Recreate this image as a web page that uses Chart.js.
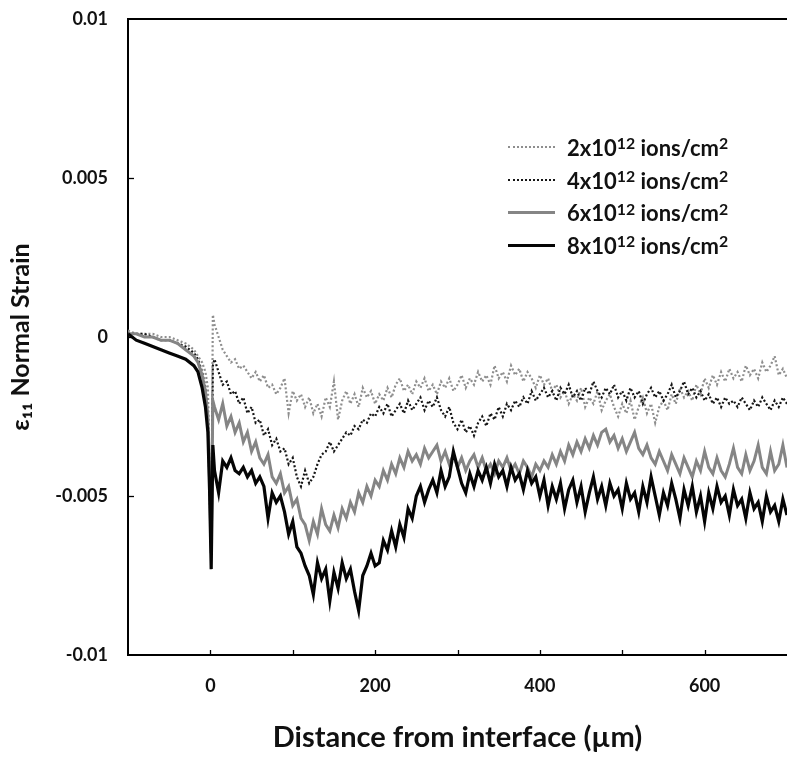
<!DOCTYPE html>
<html>
<head>
<meta charset="utf-8">
<script src="https://cdn.jsdelivr.net/npm/chart.js@4/dist/chart.umd.min.js"></script>
<style>
  html, body { margin: 0; padding: 0; background: #fff; }
  #wrap { position: relative; width: 787px; height: 765px; overflow: hidden; }
  #legend { position: absolute; left: 508px; top: 131px; font-family: Lato, "Open Sans", sans-serif; font-weight: bold; font-size: 22px; color: #111; }
  .row { display: flex; align-items: center; height: 32.7px; white-space: nowrap; }
  .sample { width: 47px; height: 0; margin-right: 12px; }
  sup { font-size: 0.72em; vertical-align: 0; position: relative; top: -0.42em; line-height: 0; }
</style>
</head>
<body>
<div id="wrap">
  <canvas id="c" width="787" height="765"></canvas>
  <div id="legend"></div>
</div>
<script>
// ---- data ----
const xValues = [-100,-90,-80,-70,-60,-50,-40,-30,-20,-15,-10,-6,-3,-1,1,3,
  5,10,15,20,25,30,35,40,45,50,55,60,65,70,75,80,85,90,95,100,
  105,110,115,120,125,130,135,140,145,150,155,160,165,170,175,180,185,190,195,200,
  205,210,215,220,225,230,235,240,245,250,255,260,265,270,275,280,285,290,295,300,
  305,310,315,320,325,330,335,340,345,350,355,360,365,370,375,380,385,390,395,400,
  405,410,415,420,425,430,435,440,445,450,455,460,465,470,475,480,485,490,495,500,
  505,510,515,520,525,530,535,540,545,550,555,560,565,570,575,580,585,590,595,600,
  605,610,615,620,625,630,635,640,645,650,655,660,665,670,675,680,685,690,695,700];

const seriesLabels = ['2x10¹² ions/cm²','4x10¹² ions/cm²','6x10¹² ions/cm²','8x10¹² ions/cm²'];

const strain2 = [0.0002,0.0001,0.0001,0.0001,0.0000,0.0000,-0.0001,-0.0002,-0.0004,-0.0006,-0.0008,-0.0011,-0.0016,-0.0040,-0.0066,0.0007,
  0.0004,0.0000,-0.0004,-0.0006,-0.0008,-0.0007,-0.0010,-0.0009,-0.0011,-0.0013,
  -0.0011,-0.0014,-0.0012,-0.0016,-0.0015,-0.0018,-0.0016,-0.0013,-0.0024,-0.0017,
  -0.0020,-0.0018,-0.0022,-0.0019,-0.0024,-0.0021,-0.0025,-0.0019,-0.0022,-0.0014,
  -0.0026,-0.0020,-0.0017,-0.0021,-0.0018,-0.0022,-0.0016,-0.0019,-0.0017,-0.0021,
  -0.0018,-0.0020,-0.0016,-0.0019,-0.0015,-0.0013,-0.0017,-0.0015,-0.0018,-0.0014,
  -0.0016,-0.0013,-0.0017,-0.0015,-0.0018,-0.0014,-0.0016,-0.0013,-0.0017,-0.0015,
  -0.0012,-0.0016,-0.0013,-0.0015,-0.0011,-0.0014,-0.0012,-0.0015,-0.0009,-0.0013,
  -0.0011,-0.0014,-0.0009,-0.0012,-0.0010,-0.0014,-0.0011,-0.0013,-0.0016,-0.0012,
  -0.0015,-0.0013,-0.0017,-0.0015,-0.0019,-0.0017,-0.0021,-0.0018,-0.0020,-0.0016,
  -0.0022,-0.0019,-0.0021,-0.0017,-0.0023,-0.0020,-0.0018,-0.0022,-0.0025,-0.0021,
  -0.0024,-0.0020,-0.0026,-0.0022,-0.0019,-0.0024,-0.0021,-0.0027,-0.0022,-0.0020,
  -0.0023,-0.0018,-0.0021,-0.0016,-0.0019,-0.0017,-0.0020,-0.0015,-0.0018,-0.0013,
  -0.0016,-0.0012,-0.0015,-0.0011,-0.0014,-0.0010,-0.0013,-0.0011,-0.0014,-0.0009,
  -0.0012,-0.0010,-0.0013,-0.0008,-0.0011,-0.0009,-0.0006,-0.0012,-0.0010,-0.0013];

const strain4 = [0.0001,0.0001,0.0001,0.0000,-0.0001,-0.0001,-0.0002,-0.0003,-0.0005,-0.0007,-0.0011,-0.0016,-0.0026,-0.0048,-0.0067,-0.0009,
  -0.0007,-0.0011,-0.0015,-0.0014,-0.0018,-0.0017,-0.0021,-0.0019,-0.0024,-0.0022,
  -0.0027,-0.0026,-0.0031,-0.0029,-0.0034,-0.0032,-0.0036,-0.0035,-0.0040,-0.0038,
  -0.0044,-0.0047,-0.0042,-0.0046,-0.0044,-0.0040,-0.0037,-0.0036,-0.0033,-0.0036,
  -0.0034,-0.0032,-0.0030,-0.0031,-0.0028,-0.0029,-0.0026,-0.0027,-0.0024,-0.0025,
  -0.0022,-0.0024,-0.0021,-0.0025,-0.0023,-0.0021,-0.0024,-0.0020,-0.0023,-0.0021,
  -0.0019,-0.0023,-0.0020,-0.0022,-0.0019,-0.0023,-0.0025,-0.0022,-0.0027,-0.0029,
  -0.0026,-0.0030,-0.0028,-0.0031,-0.0027,-0.0025,-0.0028,-0.0024,-0.0026,-0.0022,
  -0.0025,-0.0021,-0.0023,-0.0020,-0.0022,-0.0019,-0.0021,-0.0017,-0.0020,-0.0018,
  -0.0016,-0.0019,-0.0017,-0.0020,-0.0016,-0.0018,-0.0015,-0.0019,-0.0017,-0.0020,
  -0.0016,-0.0018,-0.0014,-0.0017,-0.0019,-0.0016,-0.0018,-0.0015,-0.0019,-0.0017,
  -0.0020,-0.0016,-0.0019,-0.0017,-0.0021,-0.0018,-0.0016,-0.0019,-0.0017,-0.0020,
  -0.0018,-0.0015,-0.0019,-0.0017,-0.0014,-0.0018,-0.0016,-0.0019,-0.0017,-0.0020,
  -0.0018,-0.0021,-0.0019,-0.0022,-0.0019,-0.0021,-0.0020,-0.0022,-0.0019,-0.0021,
  -0.0023,-0.0020,-0.0022,-0.0019,-0.0021,-0.0023,-0.0020,-0.0022,-0.0019,-0.0021];

const strain6 = [0.0001,0.0001,0.0000,0.0000,-0.0001,-0.0001,-0.0002,-0.0004,-0.0006,-0.0008,-0.0012,-0.0017,-0.0025,-0.0045,-0.0068,-0.0020,
  -0.0022,-0.0026,-0.0021,-0.0028,-0.0025,-0.0030,-0.0027,-0.0033,-0.0030,-0.0036,
  -0.0033,-0.0038,-0.0040,-0.0037,-0.0044,-0.0046,-0.0043,-0.0049,-0.0047,-0.0053,
  -0.0051,-0.0057,-0.0059,-0.0064,-0.0058,-0.0062,-0.0054,-0.0059,-0.0061,-0.0056,
  -0.0060,-0.0054,-0.0057,-0.0052,-0.0055,-0.0049,-0.0052,-0.0047,-0.0050,-0.0045,
  -0.0047,-0.0042,-0.0045,-0.0040,-0.0043,-0.0038,-0.0041,-0.0036,-0.0039,-0.0037,
  -0.0040,-0.0035,-0.0038,-0.0036,-0.0034,-0.0039,-0.0036,-0.0040,-0.0037,-0.0041,
  -0.0038,-0.0042,-0.0039,-0.0037,-0.0041,-0.0038,-0.0042,-0.0040,-0.0043,-0.0039,
  -0.0041,-0.0038,-0.0042,-0.0040,-0.0043,-0.0039,-0.0041,-0.0044,-0.0040,-0.0042,
  -0.0039,-0.0041,-0.0037,-0.0040,-0.0036,-0.0039,-0.0034,-0.0037,-0.0033,-0.0036,
  -0.0032,-0.0035,-0.0031,-0.0034,-0.0030,-0.0029,-0.0033,-0.0031,-0.0035,-0.0032,
  -0.0036,-0.0033,-0.0030,-0.0035,-0.0037,-0.0034,-0.0038,-0.0040,-0.0036,-0.0039,
  -0.0042,-0.0037,-0.0040,-0.0043,-0.0038,-0.0041,-0.0044,-0.0039,-0.0042,-0.0036,
  -0.0041,-0.0043,-0.0038,-0.0042,-0.0044,-0.0040,-0.0035,-0.0041,-0.0043,-0.0037,
  -0.0042,-0.0039,-0.0034,-0.0041,-0.0043,-0.0036,-0.0042,-0.0040,-0.0034,-0.0041];

const strain8 = [0.0001,-0.0001,-0.0002,-0.0003,-0.0004,-0.0005,-0.0006,-0.0007,-0.0009,-0.0011,-0.0016,-0.0022,-0.0030,-0.0048,-0.0073,-0.0034,
  -0.0042,-0.0049,-0.0039,-0.0041,-0.0038,-0.0042,-0.0043,-0.0041,-0.0044,-0.0042,
  -0.0046,-0.0044,-0.0047,-0.0057,-0.0049,-0.0052,-0.0050,-0.0055,-0.0062,-0.0058,
  -0.0066,-0.0068,-0.0072,-0.0075,-0.0081,-0.0071,-0.0076,-0.0073,-0.0083,-0.0074,
  -0.0079,-0.0071,-0.0076,-0.0073,-0.0080,-0.0086,-0.0075,-0.0072,-0.0068,-0.0072,
  -0.0071,-0.0064,-0.0067,-0.0061,-0.0066,-0.0059,-0.0063,-0.0054,-0.0057,-0.0050,
  -0.0047,-0.0052,-0.0048,-0.0045,-0.0049,-0.0042,-0.0047,-0.0044,-0.0036,-0.0041,
  -0.0046,-0.0049,-0.0043,-0.0047,-0.0042,-0.0045,-0.0041,-0.0046,-0.0040,-0.0044,
  -0.0042,-0.0047,-0.0041,-0.0045,-0.0043,-0.0048,-0.0042,-0.0046,-0.0044,-0.0050,
  -0.0045,-0.0053,-0.0047,-0.0051,-0.0046,-0.0054,-0.0048,-0.0045,-0.0052,-0.0047,
  -0.0055,-0.0049,-0.0044,-0.0051,-0.0047,-0.0053,-0.0046,-0.0050,-0.0048,-0.0054,
  -0.0046,-0.0051,-0.0049,-0.0055,-0.0047,-0.0052,-0.0044,-0.0050,-0.0056,-0.0049,
  -0.0053,-0.0046,-0.0051,-0.0057,-0.0048,-0.0053,-0.0047,-0.0055,-0.0050,-0.0058,
  -0.0049,-0.0054,-0.0047,-0.0052,-0.0050,-0.0056,-0.0048,-0.0053,-0.0051,-0.0057,
  -0.0049,-0.0054,-0.0052,-0.0058,-0.0050,-0.0055,-0.0053,-0.0058,-0.0051,-0.0056];

const xTickLabels = ['0','200','400','600'];
const yTickValues = [-0.01,-0.005,0,0.005,0.01];
const yTickLabels = ['-0.01','-0.005','0','0.005','0.01'];

// ---- chart ----
const FONT = "Lato, 'Open Sans', sans-serif";
function pts(ys) { return xValues.map((x, i) => ({x: x, y: ys[i]})); }

const styles = [
  {color: '#8e8e8e', width: 2.2, dash: [2, 2.2], order: 3},
  {color: '#151515', width: 2.2, dash: [2, 2.2], order: 2},
  {color: '#858585', width: 3, dash: [], order: 1},
  {color: '#050505', width: 3.2, dash: [], order: 0}
];
const allSeries = [strain2, strain4, strain6, strain8];

const datasets = allSeries.map((ys, i) => ({
  label: seriesLabels[i],
  data: pts(ys),
  borderColor: styles[i].color,
  backgroundColor: styles[i].color,
  borderWidth: styles[i].width,
  borderDash: styles[i].dash,
  order: styles[i].order,
  pointRadius: 0,
  tension: 0,
  fill: false
}));

function noPad(s) { s.paddingTop = 0; s.paddingBottom = 0; s.paddingLeft = 0; s.paddingRight = 0; }

const frame = {
  id: 'frame',
  afterDraw(chart) {
    const {ctx, chartArea: a, scales} = chart;
    const x = scales.x, y = scales.y;
    ctx.save();
    ctx.strokeStyle = '#000';
    ctx.lineWidth = 1.3;
    x.ticks.forEach(t => {
      const px = Math.round(x.getPixelForValue(t.value)) + 0.5;
      if (px <= a.left + 2 || px >= a.right - 1) return;
      ctx.beginPath(); ctx.moveTo(px, a.bottom); ctx.lineTo(px, a.bottom - 5); ctx.stroke();
    });
    y.ticks.forEach(t => {
      const py = Math.round(y.getPixelForValue(t.value)) + 0.5;
      if (py <= a.top + 2 || py >= a.bottom - 2) return;
      ctx.beginPath(); ctx.moveTo(a.left, py); ctx.lineTo(a.left + 6, py); ctx.stroke();
    });
    ctx.lineWidth = 2;
    ctx.beginPath(); ctx.moveTo(a.left - 1, a.top); ctx.lineTo(a.right, a.top); ctx.stroke();
    ctx.restore();
  }
};

function draw() {
  new Chart(document.getElementById('c'), {
    type: 'line',
    data: {datasets: datasets},
    plugins: [frame],
    options: {
      responsive: false,
      animation: false,
      layout: {padding: {top: 19, right: 0, bottom: 0, left: 0}},
      plugins: {legend: {display: false}, tooltip: {enabled: false}},
      scales: {
        x: {
          type: 'linear', min: -100, max: 700,
          afterFit: s => { s.height = 110; noPad(s); },
          grid: {display: true, drawOnChartArea: false, drawTicks: false},
          border: {display: true, color: '#000', width: 2},
          ticks: {
            stepSize: 100, padding: 20, color: '#111', autoSkip: false, maxRotation: 0,
            font: {family: FONT, weight: 'bold', size: 18},
            callback: v => xTickLabels.includes(String(v)) ? String(v) : ''
          },
          title: {display: true, text: 'Distance from interface (µm)', color: '#111',
            font: {family: FONT, weight: 'bold', size: 29}, padding: {top: 0, bottom: 10}}
        },
        y: {
          type: 'linear', min: -0.01, max: 0.01,
          afterFit: s => { s.width = 128; noPad(s); },
          grid: {display: true, drawOnChartArea: false, drawTicks: false},
          border: {display: true, color: '#000', width: 2},
          ticks: {
            stepSize: 0.005, padding: 20, color: '#111',
            font: {family: FONT, weight: 'bold', size: 18},
            callback: v => {
              const k = yTickValues.findIndex(t => Math.abs(t - v) < 1e-9);
              return k >= 0 ? yTickLabels[k] : '';
            }
          },
          title: {display: true, text: 'ε₁₁ Normal Strain', color: '#111',
            font: {family: FONT, weight: 'bold', size: 25}, padding: {top: 6, bottom: 0}}
        }
      }
    }
  });

  const lg = document.getElementById('legend');
  datasets.forEach(d => {
    const row = document.createElement('div');
    row.className = 'row';
    const s = document.createElement('div');
    s.className = 'sample';
    const dotted = d.borderDash.length > 0;
    s.style.borderTop = (dotted ? '2px dotted ' : '3px solid ') + d.borderColor;
    const t = document.createElement('span');
    t.innerHTML = d.label.replace('¹²', '<sup>12</sup>').replace('²', '<sup>2</sup>');
    row.appendChild(s); row.appendChild(t);
    lg.appendChild(row);
  });
}

if (document.fonts && document.fonts.load) {
  Promise.all([document.fonts.load("bold 18px Lato"), document.fonts.load("bold 29px Lato")])
    .then(draw, draw);
} else { draw(); }
</script>
</body>
</html>
